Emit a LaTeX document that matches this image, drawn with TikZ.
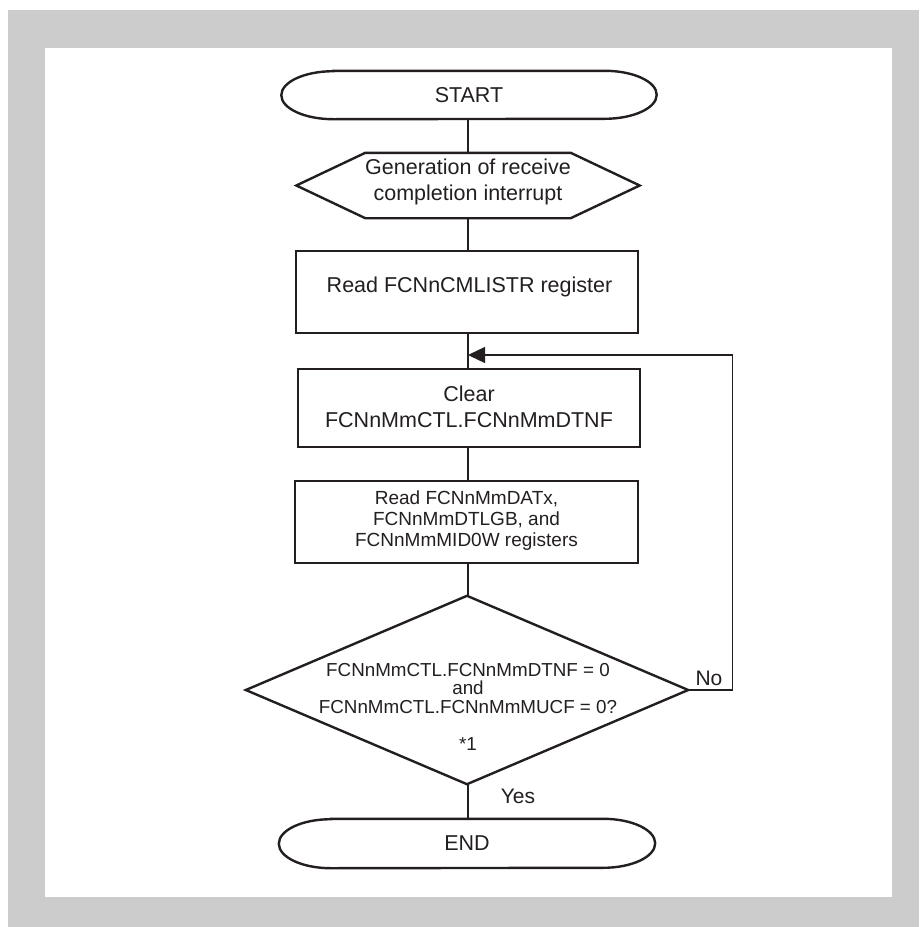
\documentclass[tikz,border=0pt]{standalone}
\usepackage{fontspec}
\setmainfont{Liberation Sans}
\usetikzlibrary{arrows.meta}
\definecolor{frame}{HTML}{CCCCCC}
\definecolor{ink}{HTML}{231F20}
\begin{document}
\begin{tikzpicture}[x=1pt,y=-1pt,
  lbl/.style={inner sep=0pt, align=center, text=ink},
  big/.style={font=\fontsize{21.5}{26}\selectfont},
  mid/.style={font=\fontsize{19}{21}\selectfont},
  small/.style={font=\fontsize{18.8}{18.5}\selectfont},
  box/.style={draw=ink, line width=2.4pt, minimum width=342pt, inner sep=0pt},
  outline/.style={draw=ink, line width=2.4pt, line join=miter},
  conn/.style={draw=ink, line width=1.3pt}]
\useasboundingbox (0,0) rectangle (919,927);
\fill[white] (0,0) rectangle (919,927);
\fill[frame] (8,10) rectangle (919,927);
\fill[white] (45,48) rectangle (892,897);

% START terminator
\node[lbl, big, minimum width=375pt, minimum height=48pt] (start) at (469,95) {START};
\draw[outline] ([xshift=52pt]start.north west) -- ([xshift=-52pt]start.north east)
  arc[start angle=90, end angle=-90, x radius=52pt, y radius=24pt]
  -- ([xshift=52pt]start.south west)
  arc[start angle=270, end angle=90, x radius=52pt, y radius=24pt] -- cycle;

% hexagon
\node[inner sep=0pt, minimum width=343pt, minimum height=65pt] (hex) at (468,185.5) {};
\draw[outline] (hex.west) -- ([xshift=69pt]hex.north west) -- ([xshift=-69pt]hex.north east)
  -- (hex.east) -- ([xshift=-69pt]hex.south east) -- ([xshift=69pt]hex.south west) -- cycle;
\node[lbl, big] (hext) at (468,182) {Generation of receive\\completion interrupt};

% boxes
\node[box, minimum height=82pt] (r1) at (467,292) {};
\node[lbl, big] (r1t) at (469.5,287) {Read FCNnCMLISTR register};
\node[box, minimum height=78pt] (clr) at (469,408) {};
\node[lbl, big] (clrt) at (469,406.5) {Clear\\FCNnMmCTL.FCNnMmDTNF};
\node[box, minimum width=343pt, minimum height=82pt] (rd) at (466.5,522) {};
\node[lbl, mid] (rdt) at (466.5,521) {Read FCNnMmDATx,\\FCNnMmDTLGB, and\\FCNnMmMID0W registers};

% decision
\node[minimum width=442pt, minimum height=188pt, inner sep=0pt] (dec) at (467,690) {};
\draw[outline] (dec.north) -- (dec.east) -- (dec.south) -- (dec.west) -- cycle;
\node[lbl, small] (dect) at (468,688.5)
  {FCNnMmCTL.FCNnMmDTNF = 0\\and\\FCNnMmCTL.FCNnMmMUCF = 0?};
\node[lbl, small] (note) at (468,744) {*1};

% END terminator
\node[lbl, big, minimum width=376pt, minimum height=49pt] (endn) at (467,843.5) {END};
\draw[outline] ([xshift=52pt]endn.north west) -- ([xshift=-52pt]endn.north east)
  arc[start angle=90, end angle=-90, x radius=52pt, y radius=24.5pt]
  -- ([xshift=52pt]endn.south west)
  arc[start angle=270, end angle=90, x radius=52pt, y radius=24.5pt] -- cycle;

% connectors
\coordinate (loopin) at (468,355);
\draw[conn] (start.south -| loopin) -- (hex.north -| loopin);
\draw[conn] (hex.south -| loopin) -- (r1.north -| loopin);
\draw[conn] (r1.south -| loopin) -- (clr.north -| loopin);
\draw[conn] (clr.south -| loopin) -- (rd.north -| loopin);
\draw[conn] (rd.south -| loopin) -- (dec.north -| loopin);
\draw[conn] (dec.south -| loopin) -- (endn.north -| loopin);
\draw[conn, -{Triangle[length=17pt, width=16pt]}] (dec.east) -- ++(44pt,0) |- (loopin);

% labels
\node[lbl, font=\fontsize{21}{25}\selectfont] (no) at (709,678) {No};
\node[lbl, font=\fontsize{21}{25}\selectfont] (yes) at (518,796) {Yes};
\end{tikzpicture}
\end{document}
